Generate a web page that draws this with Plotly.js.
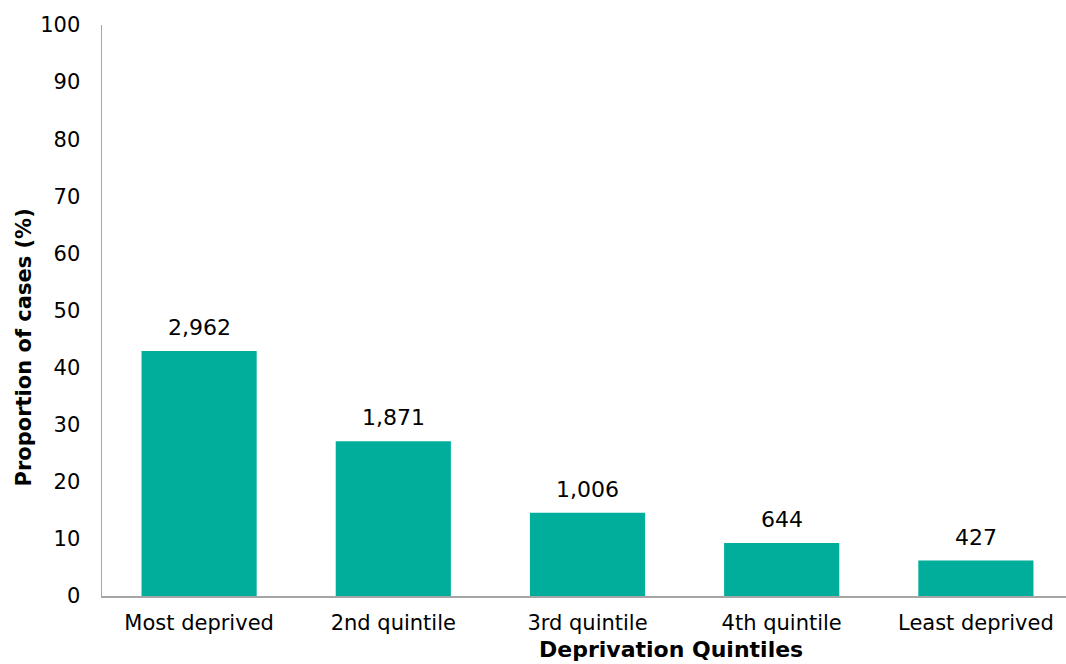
<!DOCTYPE html>
<html>
<head>
<meta charset="utf-8">
<script src="https://cdn.plot.ly/plotly-3.0.1.min.js"></script>
<style>html,body{margin:0;padding:0;background:#fff;overflow:hidden}#chart{width:1066px;height:664px}</style>
</head>
<body>
<div id="chart"></div>
<script>
const categories = ["Most deprived", "2nd quintile", "3rd quintile", "4th quintile", "Least deprived"];
const proportions = [42.9, 27.1, 14.6, 9.3, 6.2];
const caseCounts = ["2,962", "1,871", "1,006", "644", "427"];
const yTickValues = [0, 10, 20, 30, 40, 50, 60, 70, 80, 90, 100];

const FONT = "DejaVu Sans, Liberation Sans, Arial, sans-serif";
const BAR_COLOR = "#00ae9b";

const trace = {
  type: "bar",
  x: categories,
  y: proportions,
  marker: {color: BAR_COLOR},
  width: 0.593,
  hoverinfo: "skip"
};

const annotations = categories.map((c, i) => ({
  x: c, y: proportions[i], xref: "x", yref: "y",
  text: caseCounts[i], showarrow: false,
  yanchor: "bottom", yshift: 9,
  font: {family: FONT, size: 22, color: "#000"}
}));

annotations.push({
  text: "<b>Proportion of cases (%)</b>",
  xref: "paper", yref: "paper", x: -0.0805, y: 0.436,
  xanchor: "center", yanchor: "middle", textangle: -90, showarrow: false,
  font: {family: FONT, size: 21, color: "#000"}
});
annotations.push({
  text: "<b>Deprivation Quintiles</b>",
  xref: "paper", yref: "paper", x: 0.590, y: -0.0945,
  xanchor: "center", yanchor: "middle", showarrow: false,
  font: {family: FONT, size: 22, color: "#000"}
});

const layout = {
  width: 1066, height: 664,
  margin: {l: 102, r: 0, t: 25, b: 68, pad: 0},
  paper_bgcolor: "#fff", plot_bgcolor: "#fff",
  showlegend: false,
  font: {family: FONT, size: 21, color: "#000"},
  xaxis: {
    type: "category",
    range: [-0.5, 4.464],
    showline: true, linecolor: "#a6a6a6", linewidth: 1.5,
    showgrid: false, zeroline: false, ticks: "",
    ticklabelstandoff: 7,
    tickfont: {family: FONT, size: 21, color: "#000"},
    fixedrange: true
  },
  yaxis: {
    range: [0, 100],
    tickvals: yTickValues,
    ticktext: yTickValues.map(String),
    showline: true, linecolor: "#a6a6a6", linewidth: 1.5,
    showgrid: false, zeroline: false, ticks: "",
    ticklabelstandoff: 16,
    tickfont: {family: FONT, size: 21, color: "#000"},
    fixedrange: true
  },
  annotations: annotations,
  bargap: 0.4
};

Plotly.newPlot("chart", [trace], layout, {displayModeBar: false, staticPlot: true});
</script>
</body>
</html>
